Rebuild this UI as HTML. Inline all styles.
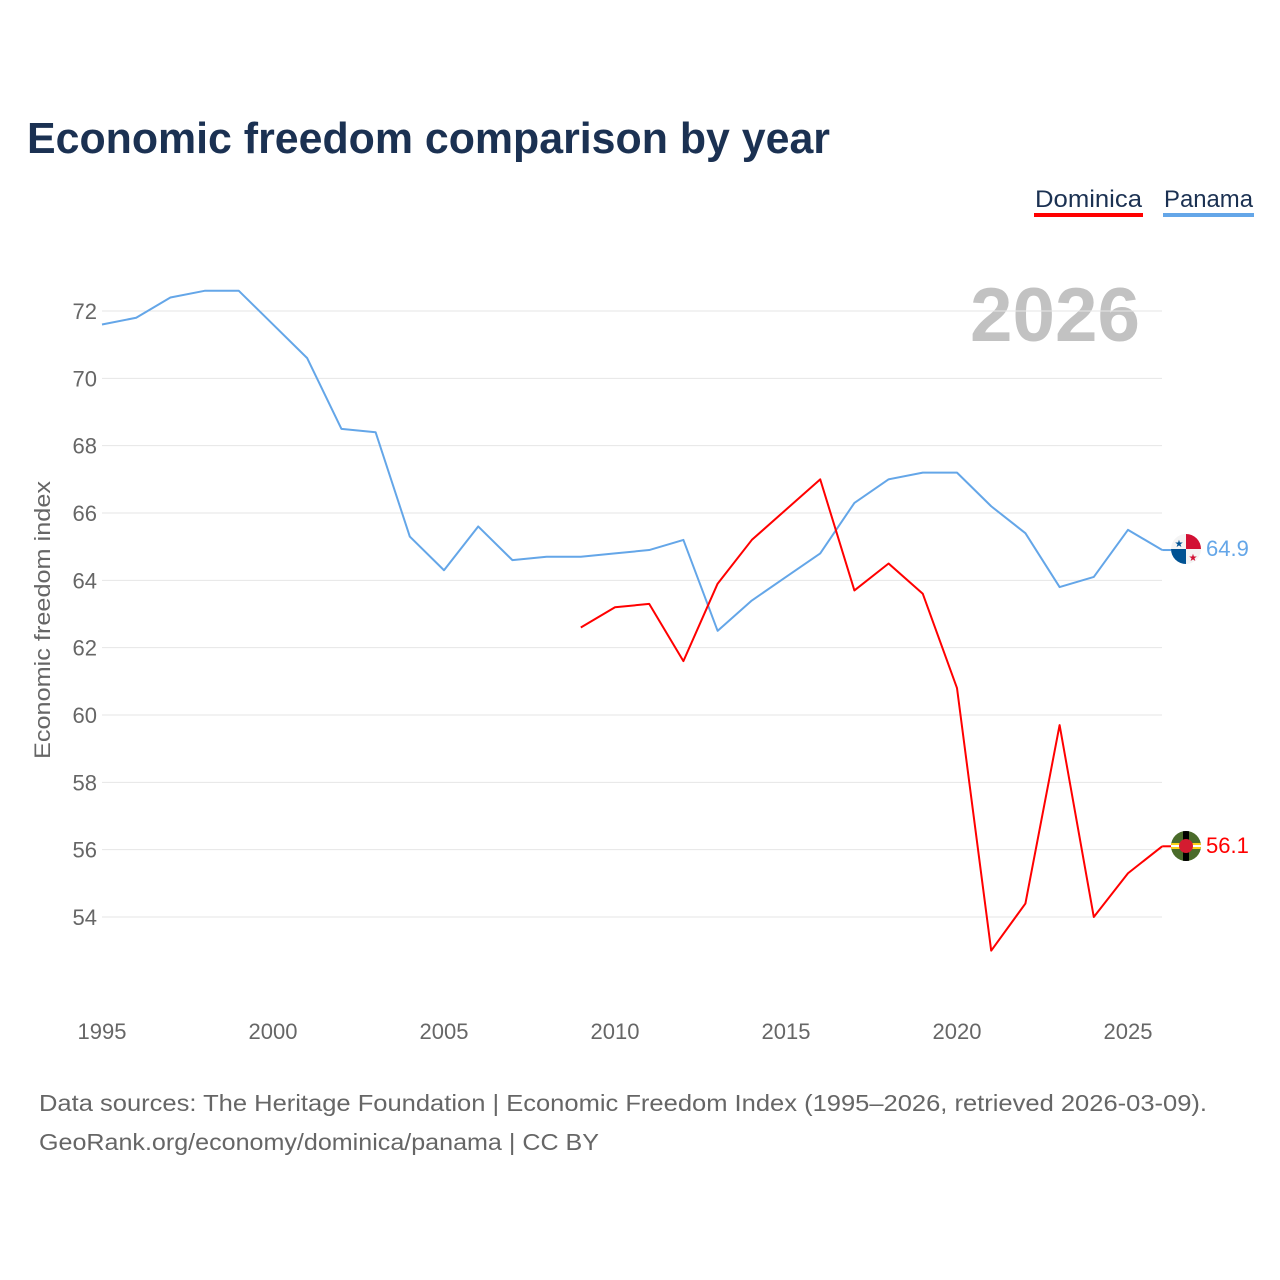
<!DOCTYPE html>
<html><head><meta charset="utf-8"><style>
html,body{margin:0;padding:0;background:#fff;}
svg{display:block;font-family:"Liberation Sans",sans-serif;}
</style></head><body>
<svg id="chart" width="1280" height="1280" viewBox="0 0 1280 1280" xmlns="http://www.w3.org/2000/svg">
<text x="27" y="153" font-size="44" font-weight="bold" fill="#1b3152" textLength="803" lengthAdjust="spacingAndGlyphs">Economic freedom comparison by year</text>
<g>
<text x="1035" y="207" font-size="24" fill="#1b3152" textLength="107" lengthAdjust="spacingAndGlyphs">Dominica</text>
<rect x="1034" y="213" width="109" height="4" fill="#ff0000"/>
</g>
<g>
<text x="1164" y="207" font-size="24" fill="#1b3152" textLength="89" lengthAdjust="spacingAndGlyphs">Panama</text>
<rect x="1163" y="213" width="91" height="4" fill="#64a6e8"/>
</g>
<text x="970" y="341" font-size="76" font-weight="bold" fill="#c2c2c2" textLength="170" lengthAdjust="spacingAndGlyphs">2026</text>
<g id="grid"></g>
<g id="yticks"></g>
<g id="xticks"></g>
<text transform="translate(50,620) rotate(-90)" font-size="22" fill="#666" text-anchor="middle" textLength="278" lengthAdjust="spacingAndGlyphs">Economic freedom index</text>
<g id="series"></g>
<g transform="translate(1186,549)">
<clipPath id="cp1"><circle r="15"/></clipPath>
<g clip-path="url(#cp1)">
<rect x="-15" y="-15" width="30" height="30" fill="#f4f4f4"/>
<rect x="0" y="-15" width="15" height="15" fill="#d21034"/>
<rect x="-15" y="0" width="15" height="15" fill="#005293"/>
<text x="-7" y="-2" font-size="10" fill="#005293" text-anchor="middle">★</text>
<text x="7" y="12" font-size="10" fill="#d21034" text-anchor="middle">★</text>
</g></g>
<g transform="translate(1186,846)">
<clipPath id="cp2"><circle r="15"/></clipPath>
<g clip-path="url(#cp2)">
<rect x="-15" y="-15" width="30" height="30" fill="#4a6b2a"/>
<rect x="-15" y="-3" width="30" height="6" fill="#fcd116"/>
<rect x="-3" y="-15" width="6" height="30" fill="#000"/>
<rect x="-15" y="-1" width="30" height="2" fill="#fff"/>
<circle r="7" fill="#d41c30"/>
</g></g>
<text id="lblP" x="1206" y="556" font-size="22" fill="#64a6e8">64.9</text>
<text id="lblD" x="1206" y="853" font-size="22" fill="#ff0000">56.1</text>
<text x="39" y="1111" font-size="23" fill="#666" textLength="1168" lengthAdjust="spacingAndGlyphs">Data sources: The Heritage Foundation | Economic Freedom Index (1995–2026, retrieved 2026-03-09).</text>
<text x="39" y="1150" font-size="23" fill="#666" textLength="560" lengthAdjust="spacingAndGlyphs">GeoRank.org/economy/dominica/panama | CC BY</text>
</svg>
<script>
const panamaYears = [1995,1996,1997,1998,1999,2000,2001,2002,2003,2004,2005,2006,2007,2008,2009,2010,2011,2012,2013,2014,2015,2016,2017,2018,2019,2020,2021,2022,2023,2024,2025,2026];
const panamaValues = [71.6,71.8,72.4,72.6,72.6,71.6,70.6,68.5,68.4,65.3,64.3,65.6,64.6,64.7,64.7,64.8,64.9,65.2,62.5,63.4,64.1,64.8,66.3,67.0,67.2,67.2,66.2,65.4,63.8,64.1,65.5,64.9];
const dominicaYears = [2009,2010,2011,2012,2013,2014,2015,2016,2017,2018,2019,2020,2021,2022,2023,2024,2025,2026];
const dominicaValues = [62.6,63.2,63.3,61.6,63.9,65.2,66.1,67.0,63.7,64.5,63.6,60.8,53.0,54.4,59.7,54.0,55.3,56.1];
const yTicks = [54,56,58,60,62,64,66,68,70,72];
const xTicks = [1995,2000,2005,2010,2015,2020,2025];

const NS = "http://www.w3.org/2000/svg";
const xS = y => 102 + (y - 1995) * (1128 - 102) / 30;
const yS = v => 917 - (v - 54) * (917 - 311) / 18;
function mk(tag, attrs, parent){const e=document.createElementNS(NS,tag);for(const k in attrs)e.setAttribute(k,attrs[k]);parent.appendChild(e);return e;}
const grid=document.getElementById('grid'), yt=document.getElementById('yticks'), xt=document.getElementById('xticks'), ser=document.getElementById('series');
yTicks.forEach(t=>{
  const l=mk('line',{x1:102,x2:1162,y1:yS(t),y2:yS(t),stroke:'#e6e6e6','stroke-width':1},grid);
  
  
  const tx=mk('text',{x:97,y:yS(t)+8,'font-size':22,fill:'#666','text-anchor':'end'},yt);
  tx.textContent=t;
  
  
});
xTicks.forEach(t=>{
  const tx=mk('text',{x:xS(t),y:1039,'font-size':22,fill:'#666','text-anchor':'middle'},xt);
  tx.textContent=t;
  
  
});
function line(ys,vs,color,name){
  const p=mk('polyline',{points:ys.map((y,i)=>xS(y)+','+yS(vs[i])).join(' '),fill:'none',stroke:color,'stroke-width':2,'stroke-linejoin':'round'},ser);
  
  
  const ly=yS(vs[vs.length-1]);
  mk('line',{x1:xS(ys[ys.length-1]),x2:1172,y1:ly,y2:ly,stroke:color,'stroke-width':2},ser);
}
line(panamaYears,panamaValues,'#64a6e8','panama-line');
line(dominicaYears,dominicaValues,'#ff0000','dominica-line');
</script>
</body></html>
